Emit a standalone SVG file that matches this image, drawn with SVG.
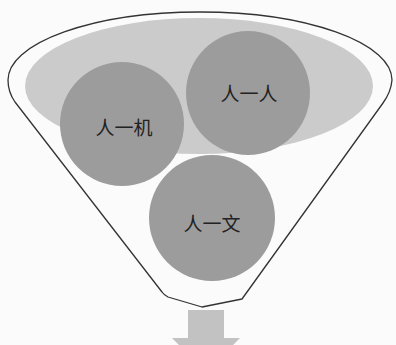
<svg xmlns="http://www.w3.org/2000/svg" width="396" height="345" viewBox="0 0 396 345">
  <style>
    .outline { fill: none; stroke: #333333; stroke-width: 1.3; stroke-linejoin: round; }
    .band { fill: #cbcbcb; }
    .ball { fill: #9c9c9c; }
    .lbl { font-family: "Noto Sans CJK SC", "Noto Sans", sans-serif; font-size: 19px; fill: #222222; text-anchor: middle; dominant-baseline: central; }
    .arrow { fill: #c2c2c2; }
  </style>
  <rect width="396" height="345" fill="#fbfbfb"/>
  <g id="funnel">
    <ellipse class="band" cx="199" cy="86" rx="174" ry="68"/>
    <path class="outline" d="M 202,307 L 168,297 Q 164,295 162,292 L 15,102 Q 8,92 8,80 A 192 68 0 0 1 392 80 Q 391,92 383,103 L 242,299 Z"/>
  </g>
  <g id="node-ren-ji">
    <circle class="ball" cx="122" cy="124" r="62"/>
    <text class="lbl" x="124" y="126">人一机</text>
  </g>
  <g id="node-ren-ren">
    <circle class="ball" cx="248" cy="93" r="62"/>
    <text class="lbl" x="249" y="92">人一人</text>
  </g>
  <g id="node-ren-wen">
    <circle class="ball" cx="212" cy="218" r="63"/>
    <text class="lbl" x="212" y="222">人一文</text>
  </g>
  <g id="connectors">
    <polygon class="arrow" points="188,310 224,310 224,338 240,338 206,372 172,338 188,338"/>
  </g>
</svg>
